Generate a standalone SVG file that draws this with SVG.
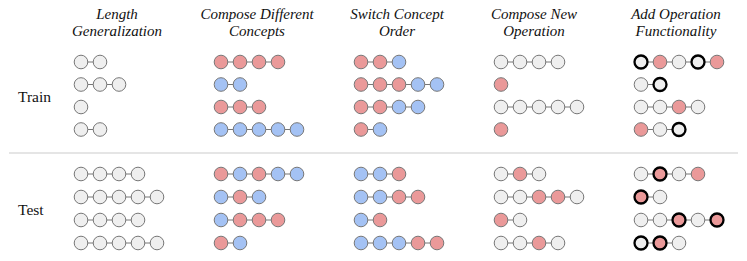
<svg xmlns="http://www.w3.org/2000/svg" width="747" height="261" viewBox="0 0 747 261">
<style>
.hd{font-family:"Liberation Serif","Times New Roman",serif;font-style:italic;font-size:15px;fill:#111;text-anchor:middle}
.lb{font-family:"Liberation Serif","Times New Roman",serif;font-size:15.5px;fill:#111}
.cn{stroke:#777;stroke-width:1;fill:none}
circle{stroke:#777;stroke-width:1}
.g{fill:#efefef}
.r{fill:#ea9999}
.b{fill:#a4c2f4}
.k{stroke:#000;stroke-width:2.3}
</style>
<rect width="747" height="261" fill="#fff"/>
<g id="headers">
<text class="hd" x="117" y="19">Length</text><text class="hd" x="117" y="35.5">Generalization</text>
<text class="hd" x="257" y="19">Compose Different</text><text class="hd" x="257" y="35.5">Concepts</text>
<text class="hd" x="397" y="19">Switch Concept</text><text class="hd" x="397" y="35.5">Order</text>
<text class="hd" x="534" y="19">Compose New</text><text class="hd" x="534" y="35.5">Operation</text>
<text class="hd" x="676" y="19">Add Operation</text><text class="hd" x="676" y="35.5">Functionality</text>
</g>
<g id="row-labels">
<text class="lb" x="18" y="101.5">Train</text>
<text class="lb" x="18" y="214.5">Test</text>
</g>
<line id="separator" x1="9" y1="153" x2="738" y2="153" stroke="#dcdcdc" stroke-width="1.5"/>
<g id="connectors" class="cn">
<path d="M81 62H100M81 84.5H119M81 129.5H100
M221 62H278M221 84.5H240M221 107H259M221 129.5H297
M361 62H399M361 84.5H437M361 107H418M361 129.5H380
M501 62H558M501 107H577
M641 62H717M641 84.5H660M641 107H698M641 129.5H679
M81 174H138M81 197H157M81 220H138M81 243H157
M221 174H297M221 197H259M221 220H278M221 243H240
M361 174H399M361 197H418M361 220H380M361 243H437
M501 174H539M501 197H577M501 220H520M501 243H558
M641 174H698M641 197H660M641 220H717M641 243H679"/>
</g>
<g id="train">
<g id="tr-c0-r0"><circle class="g" cx="81" cy="62" r="6.8"/><circle class="g" cx="100" cy="62" r="6.8"/></g>
<g id="tr-c0-r1"><circle class="g" cx="81" cy="84.5" r="6.8"/><circle class="g" cx="100" cy="84.5" r="6.8"/><circle class="g" cx="119" cy="84.5" r="6.8"/></g>
<g id="tr-c0-r2"><circle class="g" cx="81" cy="107" r="6.8"/></g>
<g id="tr-c0-r3"><circle class="g" cx="81" cy="129.5" r="6.8"/><circle class="g" cx="100" cy="129.5" r="6.8"/></g>

<g id="tr-c1-r0"><circle class="r" cx="221" cy="62" r="6.8"/><circle class="r" cx="240" cy="62" r="6.8"/><circle class="r" cx="259" cy="62" r="6.8"/><circle class="r" cx="278" cy="62" r="6.8"/></g>
<g id="tr-c1-r1"><circle class="b" cx="221" cy="84.5" r="6.8"/><circle class="b" cx="240" cy="84.5" r="6.8"/></g>
<g id="tr-c1-r2"><circle class="r" cx="221" cy="107" r="6.8"/><circle class="r" cx="240" cy="107" r="6.8"/><circle class="r" cx="259" cy="107" r="6.8"/></g>
<g id="tr-c1-r3"><circle class="b" cx="221" cy="129.5" r="6.8"/><circle class="b" cx="240" cy="129.5" r="6.8"/><circle class="b" cx="259" cy="129.5" r="6.8"/><circle class="b" cx="278" cy="129.5" r="6.8"/><circle class="b" cx="297" cy="129.5" r="6.8"/></g>

<g id="tr-c2-r0"><circle class="r" cx="361" cy="62" r="6.8"/><circle class="r" cx="380" cy="62" r="6.8"/><circle class="b" cx="399" cy="62" r="6.8"/></g>
<g id="tr-c2-r1"><circle class="r" cx="361" cy="84.5" r="6.8"/><circle class="r" cx="380" cy="84.5" r="6.8"/><circle class="r" cx="399" cy="84.5" r="6.8"/><circle class="b" cx="418" cy="84.5" r="6.8"/><circle class="b" cx="437" cy="84.5" r="6.8"/></g>
<g id="tr-c2-r2"><circle class="r" cx="361" cy="107" r="6.8"/><circle class="r" cx="380" cy="107" r="6.8"/><circle class="b" cx="399" cy="107" r="6.8"/><circle class="b" cx="418" cy="107" r="6.8"/></g>
<g id="tr-c2-r3"><circle class="r" cx="361" cy="129.5" r="6.8"/><circle class="b" cx="380" cy="129.5" r="6.8"/></g>

<g id="tr-c3-r0"><circle class="g" cx="501" cy="62" r="6.8"/><circle class="g" cx="520" cy="62" r="6.8"/><circle class="g" cx="539" cy="62" r="6.8"/><circle class="g" cx="558" cy="62" r="6.8"/></g>
<g id="tr-c3-r1"><circle class="r" cx="501" cy="84.5" r="6.8"/></g>
<g id="tr-c3-r2"><circle class="g" cx="501" cy="107" r="6.8"/><circle class="g" cx="520" cy="107" r="6.8"/><circle class="g" cx="539" cy="107" r="6.8"/><circle class="g" cx="558" cy="107" r="6.8"/><circle class="g" cx="577" cy="107" r="6.8"/></g>
<g id="tr-c3-r3"><circle class="r" cx="501" cy="129.5" r="6.8"/></g>

<g id="tr-c4-r0"><circle class="g k" cx="641" cy="62" r="6.5"/><circle class="r" cx="660" cy="62" r="6.8"/><circle class="g" cx="679" cy="62" r="6.8"/><circle class="g k" cx="698" cy="62" r="6.5"/><circle class="r" cx="717" cy="62" r="6.8"/></g>
<g id="tr-c4-r1"><circle class="g" cx="641" cy="84.5" r="6.8"/><circle class="g k" cx="660" cy="84.5" r="6.5"/></g>
<g id="tr-c4-r2"><circle class="g" cx="641" cy="107" r="6.8"/><circle class="g" cx="660" cy="107" r="6.8"/><circle class="r" cx="679" cy="107" r="6.8"/><circle class="g" cx="698" cy="107" r="6.8"/></g>
<g id="tr-c4-r3"><circle class="r" cx="641" cy="129.5" r="6.8"/><circle class="g" cx="660" cy="129.5" r="6.8"/><circle class="g k" cx="679" cy="129.5" r="6.5"/></g>
</g>
<g id="test">
<g id="te-c0-r0"><circle class="g" cx="81" cy="174" r="6.8"/><circle class="g" cx="100" cy="174" r="6.8"/><circle class="g" cx="119" cy="174" r="6.8"/><circle class="g" cx="138" cy="174" r="6.8"/></g>
<g id="te-c0-r1"><circle class="g" cx="81" cy="197" r="6.8"/><circle class="g" cx="100" cy="197" r="6.8"/><circle class="g" cx="119" cy="197" r="6.8"/><circle class="g" cx="138" cy="197" r="6.8"/><circle class="g" cx="157" cy="197" r="6.8"/></g>
<g id="te-c0-r2"><circle class="g" cx="81" cy="220" r="6.8"/><circle class="g" cx="100" cy="220" r="6.8"/><circle class="g" cx="119" cy="220" r="6.8"/><circle class="g" cx="138" cy="220" r="6.8"/></g>
<g id="te-c0-r3"><circle class="g" cx="81" cy="243" r="6.8"/><circle class="g" cx="100" cy="243" r="6.8"/><circle class="g" cx="119" cy="243" r="6.8"/><circle class="g" cx="138" cy="243" r="6.8"/><circle class="g" cx="157" cy="243" r="6.8"/></g>

<g id="te-c1-r0"><circle class="r" cx="221" cy="174" r="6.8"/><circle class="b" cx="240" cy="174" r="6.8"/><circle class="r" cx="259" cy="174" r="6.8"/><circle class="b" cx="278" cy="174" r="6.8"/><circle class="b" cx="297" cy="174" r="6.8"/></g>
<g id="te-c1-r1"><circle class="b" cx="221" cy="197" r="6.8"/><circle class="r" cx="240" cy="197" r="6.8"/><circle class="b" cx="259" cy="197" r="6.8"/></g>
<g id="te-c1-r2"><circle class="b" cx="221" cy="220" r="6.8"/><circle class="r" cx="240" cy="220" r="6.8"/><circle class="r" cx="259" cy="220" r="6.8"/><circle class="r" cx="278" cy="220" r="6.8"/></g>
<g id="te-c1-r3"><circle class="r" cx="221" cy="243" r="6.8"/><circle class="b" cx="240" cy="243" r="6.8"/></g>

<g id="te-c2-r0"><circle class="b" cx="361" cy="174" r="6.8"/><circle class="b" cx="380" cy="174" r="6.8"/><circle class="r" cx="399" cy="174" r="6.8"/></g>
<g id="te-c2-r1"><circle class="b" cx="361" cy="197" r="6.8"/><circle class="b" cx="380" cy="197" r="6.8"/><circle class="r" cx="399" cy="197" r="6.8"/><circle class="r" cx="418" cy="197" r="6.8"/></g>
<g id="te-c2-r2"><circle class="b" cx="361" cy="220" r="6.8"/><circle class="r" cx="380" cy="220" r="6.8"/></g>
<g id="te-c2-r3"><circle class="b" cx="361" cy="243" r="6.8"/><circle class="b" cx="380" cy="243" r="6.8"/><circle class="b" cx="399" cy="243" r="6.8"/><circle class="r" cx="418" cy="243" r="6.8"/><circle class="r" cx="437" cy="243" r="6.8"/></g>

<g id="te-c3-r0"><circle class="g" cx="501" cy="174" r="6.8"/><circle class="r" cx="520" cy="174" r="6.8"/><circle class="g" cx="539" cy="174" r="6.8"/></g>
<g id="te-c3-r1"><circle class="g" cx="501" cy="197" r="6.8"/><circle class="g" cx="520" cy="197" r="6.8"/><circle class="r" cx="539" cy="197" r="6.8"/><circle class="r" cx="558" cy="197" r="6.8"/><circle class="g" cx="577" cy="197" r="6.8"/></g>
<g id="te-c3-r2"><circle class="r" cx="501" cy="220" r="6.8"/><circle class="g" cx="520" cy="220" r="6.8"/></g>
<g id="te-c3-r3"><circle class="g" cx="501" cy="243" r="6.8"/><circle class="g" cx="520" cy="243" r="6.8"/><circle class="r" cx="539" cy="243" r="6.8"/><circle class="g" cx="558" cy="243" r="6.8"/></g>

<g id="te-c4-r0"><circle class="g" cx="641" cy="174" r="6.8"/><circle class="r k" cx="660" cy="174" r="6.5"/><circle class="g" cx="679" cy="174" r="6.8"/><circle class="r" cx="698" cy="174" r="6.8"/></g>
<g id="te-c4-r1"><circle class="r k" cx="641" cy="197" r="6.5"/><circle class="g" cx="660" cy="197" r="6.8"/></g>
<g id="te-c4-r2"><circle class="g" cx="641" cy="220" r="6.8"/><circle class="g" cx="660" cy="220" r="6.8"/><circle class="r k" cx="679" cy="220" r="6.5"/><circle class="g" cx="698" cy="220" r="6.8"/><circle class="r k" cx="717" cy="220" r="6.5"/></g>
<g id="te-c4-r3"><circle class="g k" cx="641" cy="243" r="6.5"/><circle class="r k" cx="660" cy="243" r="6.5"/><circle class="g" cx="679" cy="243" r="6.8"/></g>
</g>
</svg>
